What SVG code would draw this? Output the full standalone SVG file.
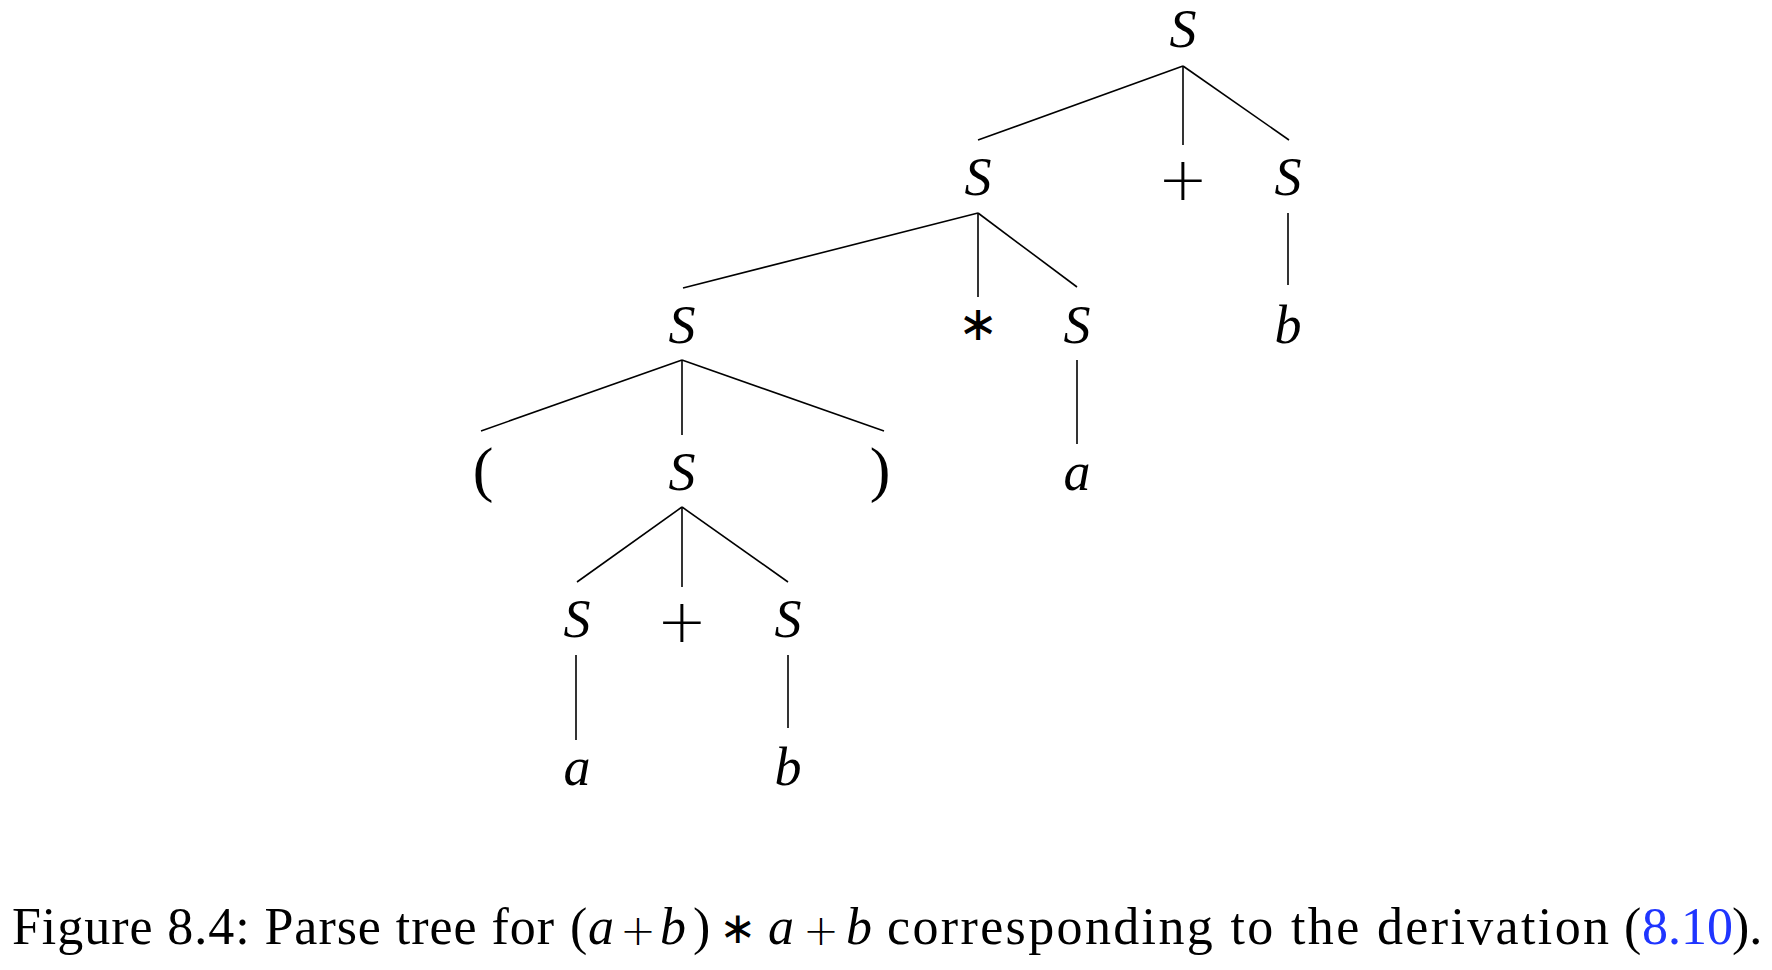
<svg xmlns="http://www.w3.org/2000/svg" width="1772" height="970" viewBox="0 0 1772 970">
<style>
.v{font-family:"Liberation Serif","DejaVu Serif",serif;font-style:italic;font-size:54px;fill:#000;text-anchor:middle}
.op{font-family:"DejaVu Sans",sans-serif;font-weight:200;font-size:60px;fill:#000;text-anchor:middle}
.ast{font-family:"DejaVu Sans",sans-serif;font-size:48px;fill:#000;text-anchor:middle}
.par{font-family:"Liberation Serif",serif;font-size:62px;fill:#000;text-anchor:middle}
.cap{font-family:"Liberation Serif",serif;font-size:52px;fill:#000}
.capi{font-family:"Liberation Serif",serif;font-style:italic;font-size:52px;fill:#000}
.capo{font-family:"DejaVu Sans",sans-serif;font-weight:200;font-size:43px;fill:#000;text-anchor:middle}
.capa{font-family:"DejaVu Sans",sans-serif;font-size:44px;fill:#000;text-anchor:middle}
.link{fill:#1f35ff}
.edges line{stroke:#000;stroke-width:1.6;fill:none}
</style>
<rect width="1772" height="970" fill="#fff"/>
<g id="connectors" class="edges">
<line x1="1183" y1="66" x2="978" y2="140"/>
<line x1="1183" y1="66" x2="1183" y2="145"/>
<line x1="1183" y1="66" x2="1289" y2="140"/>
<line x1="978" y1="213" x2="683" y2="288"/>
<line x1="978" y1="213" x2="978" y2="297"/>
<line x1="978" y1="213" x2="1077" y2="287"/>
<line x1="1288" y1="213" x2="1288" y2="285"/>
<line x1="682" y1="360" x2="481" y2="431"/>
<line x1="682" y1="360" x2="682" y2="435"/>
<line x1="682" y1="360" x2="884" y2="431"/>
<line x1="1077" y1="360" x2="1077" y2="444"/>
<line x1="682" y1="507" x2="577" y2="582"/>
<line x1="682" y1="507" x2="682" y2="587"/>
<line x1="682" y1="507" x2="788" y2="582"/>
<line x1="576" y1="655" x2="576" y2="740"/>
<line x1="788" y1="655" x2="788" y2="728"/>
</g>
<g id="n1"><text class="v" x="1183" y="47">S</text></g>
<g id="n2"><text class="v" x="978" y="195">S</text></g>
<g id="n3"><text class="op" x="1183" y="200">+</text></g>
<g id="n4"><text class="v" x="1288" y="195">S</text></g>
<g id="n5"><text class="v" x="682" y="343">S</text></g>
<g id="n6"><text class="ast" x="978" y="340">∗</text></g>
<g id="n7"><text class="v" x="1077" y="343">S</text></g>
<g id="n8"><text class="v" x="1288" y="343">b</text></g>
<g id="n9"><text class="par" x="483" y="490">(</text></g>
<g id="n10"><text class="v" x="682" y="490">S</text></g>
<g id="n11"><text class="par" x="880" y="490">)</text></g>
<g id="n12"><text class="v" x="1077" y="490">a</text></g>
<g id="n13"><text class="v" x="577" y="637">S</text></g>
<g id="n14"><text class="op" x="682" y="642">+</text></g>
<g id="n15"><text class="v" x="788" y="637">S</text></g>
<g id="n16"><text class="v" x="577" y="785">a</text></g>
<g id="n17"><text class="v" x="788" y="785">b</text></g>
<g id="caption">
<text class="cap" x="12" y="944" textLength="542" lengthAdjust="spacing">Figure 8.4: Parse tree for</text>
<text class="cap" x="570" y="944">(</text>
<text class="capi" x="588" y="944">a</text>
<text class="capo" x="638" y="945">+</text>
<text class="capi" x="660" y="944">b</text>
<text class="cap" x="693" y="944">)</text>
<text class="capa" x="738" y="943">∗</text>
<text class="capi" x="768" y="944">a</text>
<text class="capo" x="821" y="945">+</text>
<text class="capi" x="846" y="944">b</text>
<text class="cap" x="887" y="944" textLength="722" lengthAdjust="spacing">corresponding to the derivation</text>
<text class="cap" x="1624" y="944">(</text>
<text class="cap link" x="1642" y="944">8.10</text>
<text class="cap" x="1732" y="944">).</text>
</g>
</svg>
